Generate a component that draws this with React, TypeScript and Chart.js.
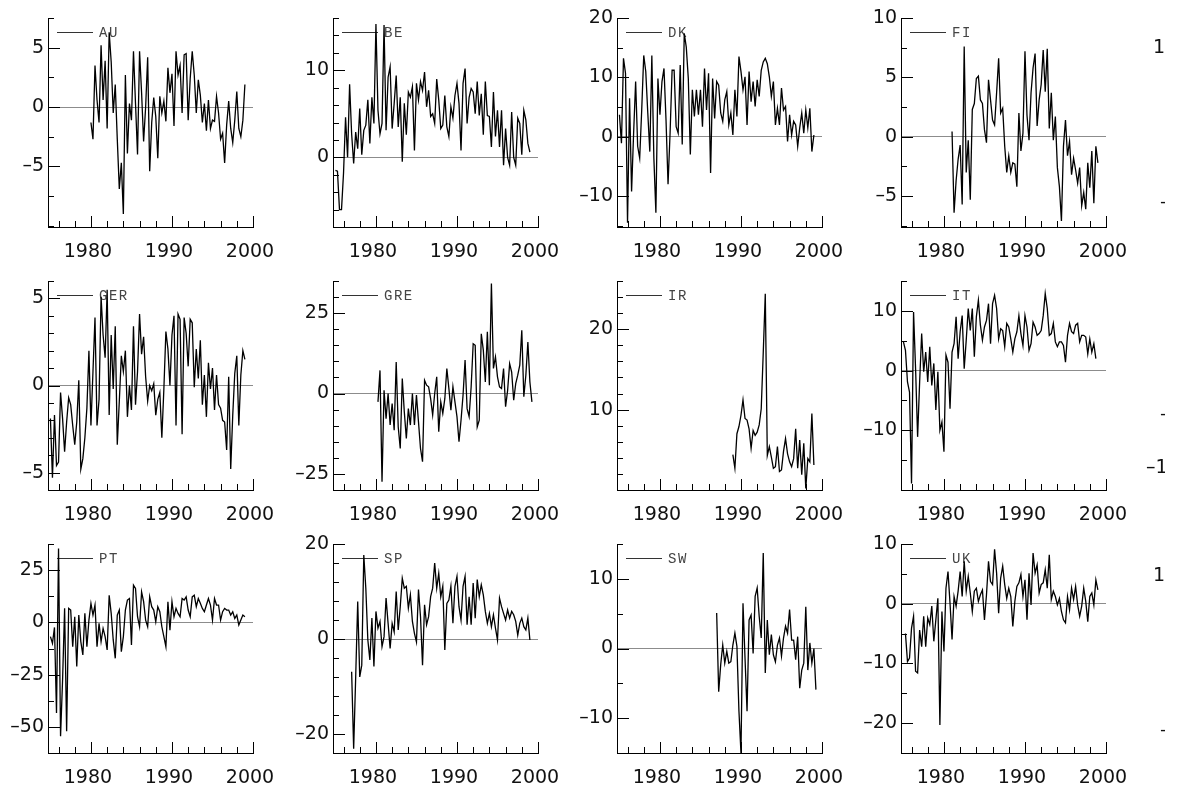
import { useEffect, useRef } from 'react';
import { Chart, registerables } from 'chart.js';

Chart.register(...registerables);

const auStart = 1980;
const auValues = [-1.3, -2.7, 3.5, 0.6, -1.3, 5.2, 0.6, 3.9, -1.8, 6.3, 3.8, -0.5, 1.9, -2.7, -6.9, -4.7, -9.0, 2.7, -3.9, 0.3, -1.1, 4.7, 0.3, -4.0, 4.7, 1.2, -2.9, 0.0, 4.2, -5.4, -1.3, 0.8, -0.8, -4.3, 0.9, -0.5, 0.5, -1.2, 3.3, 1.2, 2.8, -1.6, 4.7, 2.7, 3.5, -0.5, 4.4, 4.5, -1.1, 2.4, 4.7, 2.7, -0.5, 2.3, 1.0, -1.3, 0.3, -2.0, 0.6, -1.8, -1.1, -1.2, 0.9, -0.5, -2.7, -2.2, -4.7, -1.5, 0.5, -1.8, -3.0, -1.1, 1.3, -1.8, -2.5, -1.1, 1.9];

const beStart = 1975;
const beValues = [-1.5, -1.6, -6.0, -6.0, -1.8, 4.6, 0.0, 8.4, 2.7, -0.7, 2.9, 1.0, 5.6, 0.3, 3.1, 3.7, 6.6, 1.6, 6.9, 3.9, 15.3, 5.4, 2.7, 3.9, 15.2, 3.1, 9.2, 10.4, 3.3, 6.2, 9.4, 3.5, 6.9, -0.5, 6.2, 2.6, 7.5, 6.9, 8.1, 0.8, 8.5, 6.6, 8.7, 7.7, 9.8, 5.8, 7.7, 4.7, 5.0, 3.9, 9.0, 6.6, 3.3, 3.7, 7.1, 3.5, 2.4, 5.8, 4.5, 7.1, 8.5, 6.2, 0.8, 8.5, 10.2, 3.9, 6.9, 7.9, 7.5, 5.0, 8.7, 4.8, 7.3, 2.6, 8.7, 4.8, 4.7, 1.2, 7.5, 2.4, 5.4, 1.2, 5.4, -0.9, 3.3, 0.0, -0.9, 5.2, 0.0, -0.9, 4.5, 3.9, 0.3, 5.4, 4.3, 1.6, 0.6];

const dkStart = 1975;
const dkValues = [3.7, -1.1, 13.2, 10.7, -14.5, 6.5, -9.2, 0.6, 9.3, -1.6, -3.6, 4.5, 13.7, 11.0, 4.0, -2.5, 13.7, -3.6, -12.8, 9.8, 3.7, 9.3, 11.5, 2.8, -8.0, 0.6, 11.2, 11.2, 1.7, 0.6, 12.1, -1.3, 17.4, 15.1, 9.8, -3.0, 7.9, 3.4, 7.9, 3.7, 7.9, 1.7, 11.5, 4.5, 10.7, -6.1, 9.8, 3.1, 9.3, 8.7, 4.0, 2.6, 6.2, 7.6, 2.0, 4.0, 0.3, 7.9, 3.4, 13.5, 11.0, 7.9, 10.1, 2.0, 11.0, 5.9, 9.3, 5.1, 9.6, 6.8, 11.2, 12.6, 13.2, 12.3, 10.1, 6.8, 9.3, 2.0, 4.8, 2.0, 8.2, 4.5, 5.1, -0.8, 3.7, 0.3, 2.6, 2.0, -1.6, 1.5, 4.0, 0.6, 4.5, 1.5, 4.8, -2.5, 0.3];

const fiStart = 1981;
const fiValues = [0.45, -6.4, -3.7, -1.9, -0.7, -5.7, 7.6, -3.0, -0.3, -5.3, 2.3, 2.8, 4.9, 5.1, 3.1, 2.8, 0.6, -0.5, 4.8, 3.1, 1.4, 1.0, 3.7, 6.6, 2.0, 2.4, -0.8, -3.0, -1.6, -3.0, -2.2, -2.3, -4.2, 2.0, -1.2, 0.3, 7.2, 1.8, -0.3, 3.7, 5.8, 7.0, 0.9, 3.1, 4.4, 7.3, 3.8, 7.4, 0.7, 3.7, -0.3, 1.7, -2.6, -4.2, -7.1, -0.8, 1.4, -1.6, -0.4, -3.2, -1.8, -2.8, -3.9, -2.6, -5.8, -4.7, -6.1, -2.2, -4.3, -1.2, -5.6, -0.8, -2.2];

const gerStart = 1975;
const gerValues = [-1.9, -5.3, -1.7, -4.6, -4.4, -0.4, -1.9, -3.8, -2.1, -0.7, -1.1, -2.3, -3.4, -2.1, 0.3, -4.8, -4.2, -3.0, -1.3, 2.0, -2.3, 0.8, 3.9, -2.3, -0.8, 5.1, 2.9, 1.6, 5.5, -1.7, 2.9, -0.2, 3.4, -3.4, -0.9, 1.7, 0.8, 2.0, -1.8, 0.0, -1.4, 3.4, -1.1, 0.8, 4.1, 1.8, 2.8, 0.5, -0.9, 0.0, -0.3, 0.1, -1.7, -0.8, -0.4, -3.0, -0.2, 3.1, 2.1, 0.0, 2.9, 4.0, -2.3, 4.1, 3.8, -2.8, 3.9, 3.0, 1.1, 3.8, 3.6, -0.1, 2.1, 0.4, 2.6, -1.1, 0.6, -1.8, 1.3, -0.2, 1.0, -1.4, 0.6, -1.1, -1.3, -2.0, -2.1, -3.7, 0.5, -4.8, -1.7, 0.7, 1.7, -2.3, 0.6, 2.0, 1.5];

const greStart = 1980.25;
const greValues = [-2.6, 7.2, -27.4, 1.0, -7.8, 0.0, -9.8, -3.1, -11.4, 9.8, -10.4, -17.1, 4.7, -5.7, -14.0, -4.7, -9.8, 0.0, -9.8, -0.5, -8.8, -17.1, -21.2, 4.1, 2.6, 2.1, -1.6, -6.7, 0.0, 5.2, -11.9, -2.6, -6.2, -1.6, 7.8, 1.6, -5.2, 2.1, -2.6, -7.2, -15.0, -8.3, -0.5, 10.4, -4.7, -7.2, 2.1, 15.5, 15.0, -10.4, -8.3, 18.6, 13.5, 3.6, 19.2, 2.6, 34.2, 7.8, 11.4, 5.2, 2.1, 1.6, 7.8, -4.1, 1.0, 9.3, 6.7, -2.1, 3.1, 5.7, 8.8, 19.7, -1.0, 5.7, 16.0, 3.6, -2.6];

const irStart = 1989;
const irValues = [4.4, 2.7, 7.0, 7.9, 9.3, 11.2, 8.9, 8.7, 7.6, 5.2, 7.4, 6.8, 7.2, 8.1, 10.1, 17.1, 24.4, 4.3, 5.4, 4.1, 2.7, 2.9, 5.4, 2.3, 2.5, 4.8, 6.4, 4.5, 3.5, 2.9, 3.9, 7.6, 2.7, 6.2, 1.9, 5.8, 0.2, 3.9, 3.5, 9.5, 3.1];

const itStart = 1975;
const itValues = [4.8, 3.4, -1.9, -3.6, -18.9, 9.8, 0.3, -11.1, -1.9, 6.2, -0.2, 3.1, -1.9, 4.0, -2.5, 1.2, -6.6, -0.2, -10.0, -8.6, -13.6, 2.6, 1.4, -6.4, 3.1, 4.5, 9.0, 2.0, 6.5, 9.2, 0.3, 5.1, 10.4, 6.7, 10.4, 2.3, 9.0, 11.8, 7.6, 5.1, 7.3, 8.4, 11.2, 4.5, 11.2, 12.6, 10.4, 5.3, 7.0, 6.7, 4.0, 7.9, 7.3, 5.3, 3.1, 5.3, 6.5, 9.2, 6.2, 4.2, 9.2, 7.3, 3.4, 4.5, 8.1, 7.3, 5.9, 6.2, 6.7, 9.2, 12.9, 10.4, 5.9, 6.2, 7.9, 4.8, 4.0, 4.8, 4.8, 4.2, 1.4, 5.9, 7.9, 6.5, 6.2, 7.6, 7.9, 4.8, 5.9, 5.9, 5.6, 2.8, 5.3, 3.1, 4.5, 2.0];

const ptStart = 1975;
const ptValues = [-6.8, -10.0, -2.4, -43.4, 35.3, -54.5, -27.5, 6.7, -52.1, 6.7, 5.9, -11.6, 2.7, -21.1, 3.5, -9.2, -15.6, 4.3, -11.6, 1.1, 9.1, 3.5, 8.3, -11.6, -0.5, -9.2, -2.9, -6.8, -13.2, 13.0, 4.3, -8.4, -17.2, 3.5, 5.9, -14.0, -6.8, 5.9, 10.7, 11.4, -10.8, 17.8, 16.2, 2.7, -2.1, 14.6, 9.9, 1.1, -2.1, 12.2, 7.5, 5.9, 0.3, 7.5, 5.1, -2.1, -6.8, -11.6, 9.9, -3.7, 9.9, 2.7, 6.7, 4.3, 2.7, 11.4, 10.7, 12.2, 5.9, 2.7, 12.2, 13.0, 7.5, 11.4, 9.1, 6.7, 5.1, 8.3, 11.4, 8.3, 1.1, 11.4, 8.3, 8.3, 1.1, 5.1, 6.7, 5.9, 5.9, 3.5, 5.1, 1.9, 3.5, -1.3, 1.1, 3.5, 2.7];

const spStart = 1977;
const spValues = [-6.9, -23.1, -8.0, 7.9, -8.0, -5.5, 17.7, 10.7, -0.2, -4.4, 4.4, -5.8, 5.8, 2.3, 3.7, -1.6, 0.5, 8.6, 3.3, -2.0, 3.3, 1.5, 10.0, 1.9, 6.8, 12.8, 10.7, 11.1, 6.5, 9.3, 3.7, 1.2, -0.6, 10.4, 4.7, -5.5, 7.2, 3.0, 4.7, 8.9, 10.7, 16.0, 10.7, 13.8, 8.9, 11.1, -2.3, 7.5, 8.2, 11.1, 3.3, 11.1, 13.2, 6.8, 4.0, 11.1, 13.2, 3.0, 8.9, 3.0, 11.8, 4.4, 12.5, 8.9, 11.4, 9.3, 5.8, 3.3, 5.4, 2.6, 5.1, 2.3, -0.2, 8.6, 6.8, 5.4, 4.0, 6.1, 4.4, 5.8, 5.1, 3.7, 0.8, 3.3, 4.4, 2.6, 1.9, 4.4, -0.2];

const swStart = 1987;
const swValues = [5.1, -6.2, -2.3, 0.5, -2.1, -0.4, -2.1, -1.9, 0.5, 2.2, 0.3, -9.0, -15.0, 6.5, -1.4, -9.0, 4.1, 4.8, -0.7, 7.5, 8.7, 4.6, 1.5, 13.7, -3.5, 4.1, -0.9, 2.0, -0.9, -1.9, 0.5, 1.5, -1.1, 1.5, 3.2, 2.2, 5.6, 1.2, 1.2, -1.6, 1.7, -5.7, -3.1, -2.1, 6.0, -3.1, 0.8, -2.1, 0.0, -5.9];

const ukStart = 1975.25;
const ukValues = [-5.0, -9.7, -9.1, -4.1, -2.1, -11.3, -11.6, -4.4, -7.2, -2.1, -7.2, -2.4, -3.5, -0.4, -6.3, -2.7, 0.9, -20.3, -1.3, -8.0, 2.6, 5.4, 0.1, -6.0, 1.2, -0.4, 2.1, 5.4, 1.2, 7.1, 2.1, 4.6, 1.8, -1.3, 2.1, 2.6, 0.4, 1.5, 2.3, -2.7, 1.5, 7.1, 3.7, 3.2, 9.1, 5.1, -1.6, 4.3, 6.3, 3.2, 0.9, 2.6, 1.2, -3.8, 0.4, 2.9, 3.5, 4.9, 1.2, 4.0, -2.7, 5.1, -0.2, 8.5, 5.1, 6.5, 1.8, 3.2, 3.5, 5.7, 2.6, 8.2, 0.7, 2.1, 1.2, -0.2, 0.9, -1.3, -2.7, -3.2, 1.2, -1.0, 2.6, 0.7, 2.9, -0.2, -2.1, -0.4, 2.6, 0.4, -3.0, 1.2, 1.8, -0.2, 4.0, 2.3];

const xLabels = [1980, 1990, 2000];
const xTickYears = [1976, 1978, 1980, 1982, 1984, 1986, 1988, 1990, 1992, 1994, 1996, 1998, 2000];

const panels = [
  { name: 'AU', start: auStart, values: auValues, min: -10.1, max: 7.5, minor: 2.5, labels: [-5, 0, 5] },
  { name: 'BE', start: beStart, values: beValues, min: -8, max: 16, minor: 2, labels: [0, 10] },
  { name: 'DK', start: dkStart, values: dkValues, min: -15.2, max: 20, minor: 5, labels: [-10, 0, 10, 20] },
  { name: 'FI', start: fiStart, values: fiValues, min: -7.6, max: 10, minor: 2.5, labels: [-5, 0, 5, 10] },
  { name: 'GER', start: gerStart, values: gerValues, min: -6, max: 6, minor: 1, labels: [-5, 0, 5] },
  { name: 'GRE', start: greStart, values: greValues, min: -30, max: 35, minor: 5, labels: [-25, 0, 25] },
  { name: 'IR', start: irStart, values: irValues, min: 0, max: 26, minor: 2, labels: [10, 20] },
  { name: 'IT', start: itStart, values: itValues, min: -20, max: 15, minor: 5, labels: [-10, 0, 10] },
  { name: 'PT', start: ptStart, values: ptValues, min: -62.5, max: 37.5, minor: 12.5, labels: [-50, -25, 0, 25] },
  { name: 'SP', start: spStart, values: spValues, min: -24, max: 20, minor: 4, labels: [-20, 0, 20] },
  { name: 'SW', start: swStart, values: swValues, min: -15, max: 15, minor: 5, labels: [-10, 0, 10] },
  { name: 'UK', start: ukStart, values: ukValues, min: -25, max: 10, minor: 5, labels: [-20, -10, 0, 10] },
];

// bits of a fifth column of panels that is cut off at the right edge
const edgeBits = [
  { text: '10', left: 1153, top: 37 },
  { text: '\u20135', left: 1160, top: 192 },
  { text: '\u20135', left: 1160, top: 404 },
  { text: '\u201310', left: 1146, top: 457 },
  { text: '10', left: 1153, top: 565 },
  { text: '\u20135', left: 1160, top: 720 },
];

const COL_X = [48, 333, 617, 901];
const ROW_Y = [18, 281, 544];
const Y_AXIS_W = 70;
const PAD_TOP = 14;
const PAD_RIGHT = 30;
const PLOT_W = 205;
const PLOT_H = 209;
const X_AXIS_H = 40;
const CANVAS_W = Y_AXIS_W + PLOT_W + PAD_RIGHT;
const CANVAS_H = PAD_TOP + PLOT_H + X_AXIS_H;

const tickFont = { family: "'DejaVu Sans', sans-serif", size: 19 };
const fmt = (v: number) => (v < 0 ? '\u2013' + Math.abs(v) : String(v));

// GiveWin style inward tick marks
const tickMarks = {
  id: 'tickMarks',
  afterDatasetsDraw(chart: any, _args: any, opts: any) {
    const { ctx, chartArea: area, scales } = chart;
    const x = scales.x;
    const y = scales.y;
    ctx.save();
    ctx.strokeStyle = '#000';
    ctx.lineWidth = 1;
    ctx.beginPath();
    for (const year of xTickYears) {
      const px = Math.round(x.getPixelForValue(year)) + 0.5;
      const len = xLabels.includes(year) ? 11 : 6;
      ctx.moveTo(px, area.bottom);
      ctx.lineTo(px, area.bottom - len);
    }
    const first = Math.ceil(y.min / opts.minor - 1e-6);
    for (let k = first; k * opts.minor <= y.max + 1e-6; k++) {
      const v = k * opts.minor;
      const py = Math.round(y.getPixelForValue(v)) + 0.5;
      const len = opts.labels.includes(v) ? 12 : 6;
      ctx.moveTo(area.left, py);
      ctx.lineTo(area.left + len, py);
    }
    ctx.stroke();
    ctx.restore();
  },
};

// short line + series name in the top left corner
const seriesKey = {
  id: 'seriesKey',
  beforeDatasetsDraw(chart: any) {
    const { ctx, chartArea: area } = chart;
    const ds = chart.data.datasets[0];
    const yMid = Math.round(area.top + 14) + 0.5;
    ctx.save();
    ctx.strokeStyle = '#333';
    ctx.lineWidth = 1;
    ctx.beginPath();
    ctx.moveTo(area.left + 9, yMid);
    ctx.lineTo(area.left + 45, yMid);
    ctx.stroke();
    ctx.font = "14px 'Liberation Mono', monospace";
    ctx.letterSpacing = '1.5px';
    ctx.fillStyle = '#444';
    ctx.textBaseline = 'middle';
    ctx.fillText(ds.label, area.left + 51, yMid + 0.5);
    ctx.restore();
  },
};

function Panel({ panel, left, top }: any) {
  const chartRef = useRef<HTMLCanvasElement>(null);

  useEffect(() => {
    if (!chartRef.current) return;

    const chart = new Chart(chartRef.current, {
      type: 'line',
      data: {
        datasets: [{
          label: panel.name,
          data: panel.values.map((v: number, i: number) => ({ x: panel.start + i / 4, y: v })),
          borderColor: '#000',
          borderWidth: 1.3,
          pointRadius: 0,
          tension: 0,
          fill: false,
        }],
      },
      options: {
        responsive: false,
        animation: false,
        events: [],
        layout: { padding: { top: PAD_TOP, right: PAD_RIGHT, left: 0, bottom: 0 } },
        plugins: {
          legend: { display: false },
          tooltip: { enabled: false },
          tickMarks: { minor: panel.minor, labels: panel.labels },
        } as any,
        scales: {
          x: {
            type: 'linear',
            min: 1974.7,
            max: 2000,
            grid: { display: false },
            border: { display: true, color: '#000', width: 1 },
            ticks: {
              color: '#111',
              font: tickFont,
              padding: 6,
              labelOffset: -3,
              maxRotation: 0,
              autoSkip: false,
              callback: (v: any) => String(v),
            },
            afterBuildTicks: (s: any) => { s.ticks = xLabels.map((value) => ({ value })); },
            afterFit: (s: any) => { s.height = X_AXIS_H; s.paddingLeft = 0; s.paddingRight = 0; },
          },
          y: {
            min: panel.min,
            max: panel.max,
            grid: {
              drawTicks: false,
              color: (c: any) => (c.tick && c.tick.value === 0 ? '#8c8c8c' : 'rgba(0,0,0,0)'),
            },
            border: { display: true, color: '#000', width: 1 },
            ticks: {
              color: '#111',
              font: tickFont,
              padding: 4,
              autoSkip: false,
              callback: (v: any) => fmt(Number(v)),
            },
            afterBuildTicks: (s: any) => { s.ticks = panel.labels.map((value: number) => ({ value })); },
            afterFit: (s: any) => { s.width = Y_AXIS_W; s.paddingTop = 0; s.paddingBottom = 0; },
          },
        },
      } as any,
      plugins: [seriesKey, tickMarks],
    });

    return () => chart.destroy();
  }, [panel]);

  return (
    <canvas
      ref={chartRef}
      width={CANVAS_W}
      height={CANVAS_H}
      style={{ position: 'absolute', left, top, width: CANVAS_W, height: CANVAS_H }}
    />
  );
}

export default function App() {
  return (
    <div style={{ position: 'absolute', left: 0, top: 0, width: 1180, height: 795, background: '#fff', overflow: 'hidden' }}>
      {panels.map((p, i) => (
        <Panel
          key={p.name}
          panel={p}
          left={COL_X[i % 4] - Y_AXIS_W}
          top={ROW_Y[Math.floor(i / 4)] - PAD_TOP}
        />
      ))}
      <div style={{ position: 'absolute', left: 1100, top: 0, width: 65, height: 795, overflow: 'hidden' }}>
        {edgeBits.map((b, i) => (
          <span
            key={i}
            style={{
              position: 'absolute',
              left: b.left - 1100,
              top: b.top,
              font: "19px/19px 'DejaVu Sans', sans-serif",
              color: '#111',
              whiteSpace: 'nowrap',
            }}
          >
            {b.text}
          </span>
        ))}
      </div>
    </div>
  );
}
